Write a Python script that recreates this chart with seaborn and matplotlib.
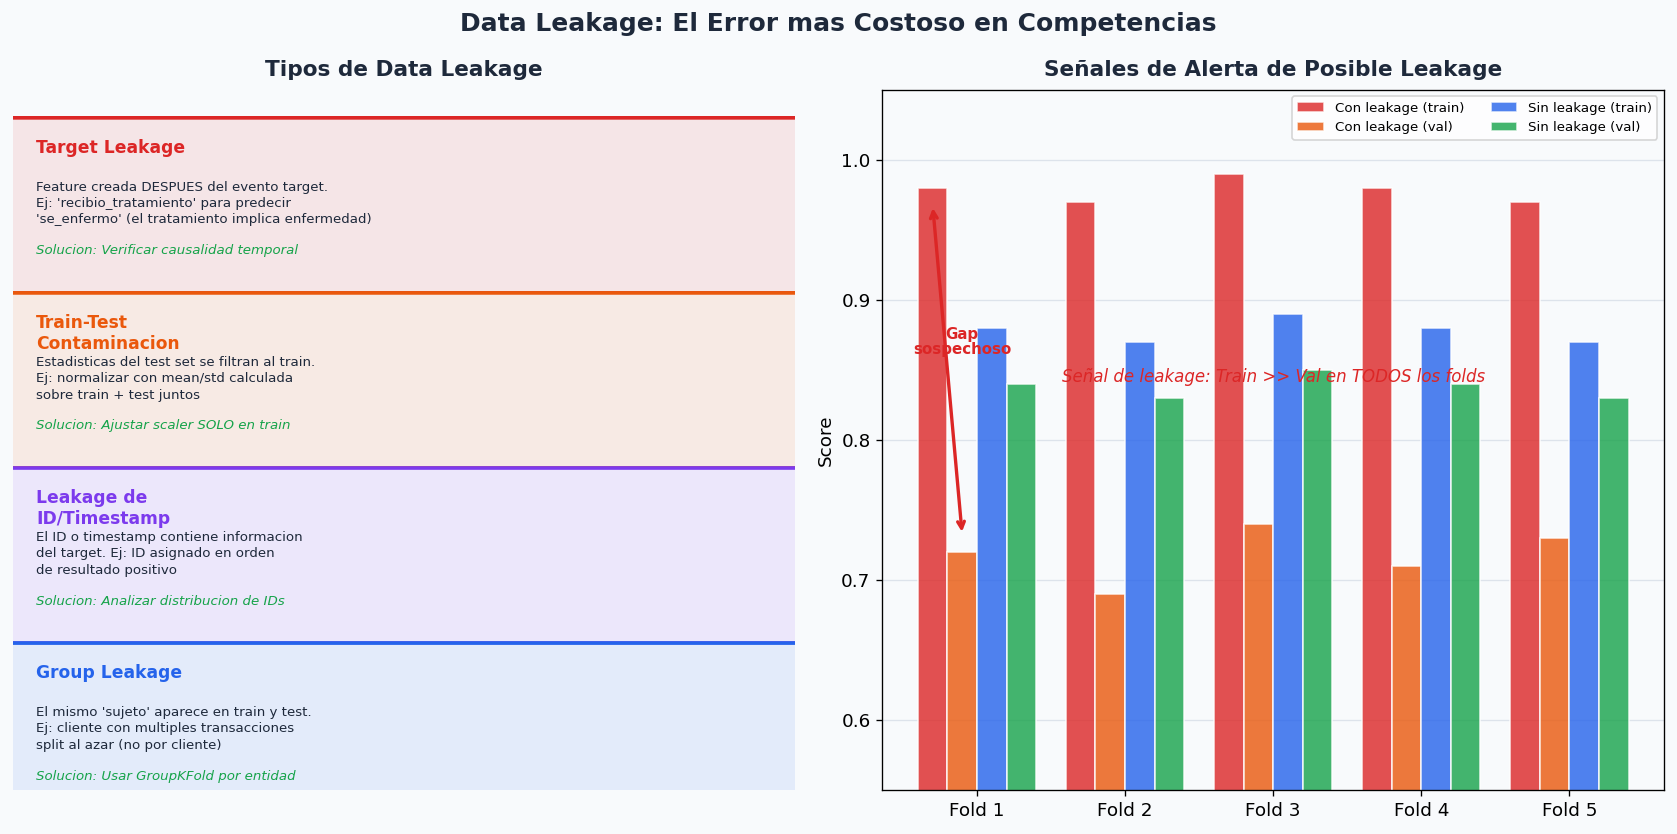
import pandas as pd
import numpy as np
import matplotlib
matplotlib.use("Agg")
import matplotlib.pyplot as plt
import matplotlib.colors as mcolors
from matplotlib.patches import FancyBboxPatch
import seaborn as sns

# ----------------------------------------------------------------------
# Datos
# ----------------------------------------------------------------------
folds = ["Fold 1", "Fold 2", "Fold 3", "Fold 4", "Fold 5"]
con_train = [0.98, 0.97, 0.99, 0.98, 0.97]
con_val = [0.72, 0.69, 0.74, 0.71, 0.73]
sin_train = [0.88, 0.87, 0.89, 0.88, 0.87]
sin_val = [0.84, 0.83, 0.85, 0.84, 0.83]
series_names = ["Con leakage (train)", "Con leakage (val)",
                "Sin leakage (train)", "Sin leakage (val)"]
series_colors = ["#dc2626", "#ea580c", "#2563eb", "#16a34a"]

tipos = ["Target Leakage", "Train-Test\nContaminacion",
         "Leakage de\nID/Timestamp", "Group Leakage"]
descripciones = [
    "Feature creada DESPUES del evento target.\nEj: 'recibio_tratamiento' para predecir\n'se_enfermo' (el tratamiento implica enfermedad)",
    "Estadisticas del test set se filtran al train.\nEj: normalizar con mean/std calculada\nsobre train + test juntos",
    "El ID o timestamp contiene informacion\ndel target. Ej: ID asignado en orden\nde resultado positivo",
    "El mismo 'sujeto' aparece en train y test.\nEj: cliente con multiples transacciones\nsplit al azar (no por cliente)",
]
soluciones = [
    "Solucion: Verificar causalidad temporal",
    "Solucion: Ajustar scaler SOLO en train",
    "Solucion: Analizar distribucion de IDs",
    "Solucion: Usar GroupKFold por entidad",
]
tipo_colors = ["#dc2626", "#ea580c", "#7c3aed", "#2563eb"]

bg = "#f8fafc"
dark = "#1e293b"

df = pd.DataFrame({
    "Fold": folds * 4,
    "Score": con_train + con_val + sin_train + sin_val,
    "Serie": np.repeat(series_names, len(folds)),
})

# ----------------------------------------------------------------------
# Figura
# ----------------------------------------------------------------------
plt.rcParams["font.family"] = "DejaVu Sans"
fig = plt.figure(figsize=(1677 / 120, 834 / 120), dpi=120, facecolor=bg)
ax1 = fig.add_axes([0.0077, 0.0526, 0.4662, 0.8397])
ax2 = fig.add_axes([0.5261, 0.0526, 0.4662, 0.8397])
fig.suptitle("Data Leakage: El Error mas Costoso en Competencias",
             fontsize=15, fontweight="bold", color=dark, y=0.9718, va="center")

# --- panel izquierdo: tipos de leakage ---
ax1.set_facecolor(bg)
ax1.set_xlim(0, 1)
ax1.set_ylim(0, 1)
ax1.axis("off")
ax1.set_title("Tipos de Data Leakage", fontsize=13, fontweight="bold",
              color=dark, pad=8)

bg_rgb = np.array(mcolors.to_rgb(bg))
for i, (tipo, desc, sol, col) in enumerate(zip(tipos, descripciones, soluciones, tipo_colors)):
    top = 0.96 - 0.25 * i
    fill = 0.9 * bg_rgb + 0.1 * np.array(mcolors.to_rgb(col))
    box = FancyBboxPatch((-0.02, top - 0.25), 1.04, 0.25,
                         boxstyle="round,pad=0,rounding_size=0.01",
                         facecolor=fill, edgecolor=col, linewidth=2.2)
    ax1.add_patch(box)
    ax1.text(0.03, top - 0.03, tipo, fontsize=10.3, fontweight="bold",
             color=col, va="top", ha="left", linespacing=1.25)
    ax1.text(0.03, top - 0.09, desc, fontsize=8, color=dark,
             va="top", ha="left", linespacing=1.33)
    ax1.text(0.03, top - 0.19, sol, fontsize=8, color="#16a34a",
             style="italic", va="center", ha="left")

# --- panel derecho: barras ---
ax2.set_facecolor(bg)
sns.barplot(data=df, x="Fold", y="Score", hue="Serie", palette=series_colors,
            saturation=1, alpha=0.8, edgecolor="white", linewidth=1,
            errorbar=None, ax=ax2)
ax2.set_xlim(-0.64, 4.64)
ax2.set_ylim(0.55, 1.05)
ax2.set_yticks([0.6, 0.7, 0.8, 0.9, 1.0])
ax2.set_xlabel("")
ax2.set_ylabel("Score", fontsize=11)
ax2.set_title("Señales de Alerta de Posible Leakage", fontsize=13,
              fontweight="bold", color=dark, pad=8)
ax2.grid(axis="y", color="#cbd5e1", alpha=0.6, linewidth=0.8)
ax2.set_axisbelow(True)
ax2.tick_params(labelsize=11)
sns.move_legend(ax2, "upper right", ncol=2, fontsize=8, title=None)

ax2.annotate("", xy=(-0.3, con_train[0] - 0.012), xytext=(-0.1, con_val[0] + 0.012),
             arrowprops=dict(arrowstyle="<->", color="#dc2626", lw=2))
ax2.text(-0.1, 0.87, "Gap\nsospechoso", fontsize=9, fontweight="bold",
         color="#dc2626", ha="center", va="center", linespacing=1.0)
ax2.text(2, 0.845, "Señal de leakage: Train >> Val en TODOS los folds",
         fontsize=10, color="#dc2626", style="italic", ha="center", va="center")

fig.savefig("out.png", dpi=120, facecolor=bg)
